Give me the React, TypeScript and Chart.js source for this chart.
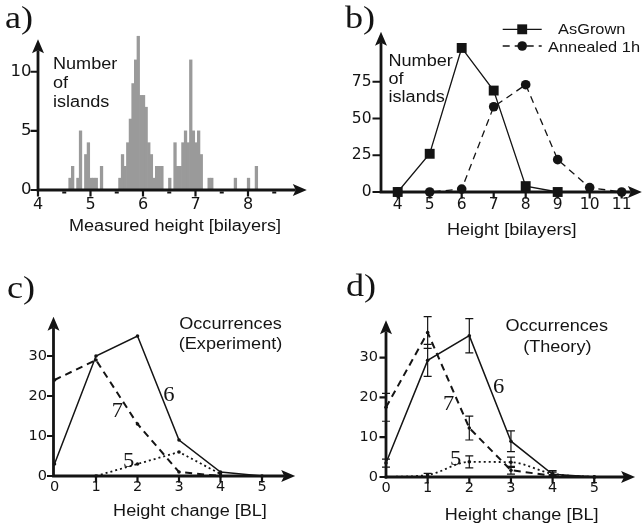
import React, { useEffect, useRef } from 'react';
import { Chart, registerables } from 'chart.js';

Chart.register(...registerables);

const SANS = '"Liberation Sans", Arial, Helvetica, sans-serif';
const TICK_SANS = '"DejaVu Sans", "Liberation Sans", Arial, sans-serif';
const SERIF = '"Liberation Serif", "Times New Roman", serif';
const INK = '#141414';
const BAR_GREY = '#9a9a9a';
const STRETCH = 1.13;

// ---------- Panel a: histogram ----------
const histHeights = [
  4.61, 4.66, 4.76, 4.81, 4.91, 4.96, 5.01, 5.06, 5.11, 5.21,
  5.56, 5.61, 5.66, 5.71, 5.76, 5.81, 5.86, 5.91, 5.96, 6.01,
  6.06, 6.11, 6.16, 6.21, 6.26, 6.31, 6.36, 6.51, 6.61, 6.66,
  6.71, 6.76, 6.81, 6.86, 6.91, 6.96, 7.01, 7.06, 7.11, 7.26,
  7.31, 7.76, 8.01, 8.16,
];
const histCounts = [
  1, 2, 1, 5, 3, 4, 1, 1, 1, 2,
  1, 3, 2, 4, 6, 9, 11, 13, 8, 8,
  7, 4, 3, 1, 2, 2, 2, 1, 4, 2,
  2, 4, 5, 4, 11, 5, 4, 5, 3, 1,
  1, 1, 1, 2,
];
const histXTicks = [4, 5, 6, 7, 8];
const histXMinor = [4.5, 5.5, 6.5, 7.5, 8.5];
const histYTicks = [0, 5, 10];

// ---------- Panel b ----------
const bilayers = [4, 5, 6, 7, 8, 9, 10, 11];
const asGrown = [0, 26, 98, 69, 4, 0, null, null];
const annealed1h = [0, 0, 2, 58, 73, 22, 3, 0];
const bYTicks = [0, 25, 50, 75];

// ---------- Panels c, d ----------
const heightChange = [0, 1, 2, 3, 4, 5];
const exp6 = [3, 30, 35, 9, 1, 0];
const exp7 = [24, 29, 13, 1, 0, null];
const exp5 = [null, 0, 3, 6, 0.5, null];
const th6 = [3.5, 29.3, 35.5, 9, 0.7, 0];
const th7 = [17.5, 36.3, 12.3, 1.7, 0.3, 0];
const th5 = [0, 0.5, 3.8, 3.7, 0.8, 0];
const th6Err = [1, 4, 4.3, 2.6, 0.9, 0];
const th7Err = [3.5, 4, 3, 1, 0.3, 0];
const th5Err = [0, 0.4, 1.5, 1.3, 0.4, 0];
const occYTicks = [0, 10, 20, 30];

// ---------- helpers ----------
function drawStretched(ctx: CanvasRenderingContext2D, t: string, x: number, y: number, font: string, align: string) {
  ctx.save();
  ctx.font = font;
  ctx.textBaseline = 'alphabetic';
  ctx.textAlign = 'left';
  ctx.fillStyle = INK;
  const w = ctx.measureText(t).width * STRETCH;
  let left = x;
  if (align === 'center') left = x - w / 2;
  else if (align === 'right') left = x - w;
  ctx.translate(left, y);
  ctx.scale(STRETCH, 1);
  ctx.fillText(t, 0, 0);
  ctx.restore();
}

const arrowAxesPlugin = {
  id: 'arrowAxes',
  afterDatasetsDraw(chart: any, _a: any, o: any) {
    if (!o || !o.on) return;
    const ctx: CanvasRenderingContext2D = chart.ctx;
    const xs = chart.scales.x;
    const ys = chart.scales.y;
    const x0 = xs.getPixelForValue(xs.min);
    const y0 = ys.getPixelForValue(0);
    const xTip = xs.getPixelForValue(o.xTip);
    const yTip = ys.getPixelForValue(o.yTip);
    const L = 14;
    const HW = 6;
    ctx.save();
    ctx.strokeStyle = INK;
    ctx.fillStyle = INK;
    ctx.lineWidth = o.lw;
    ctx.beginPath();
    ctx.moveTo(x0 - o.lw / 2, y0);
    ctx.lineTo(xTip - L + 3, y0);
    ctx.moveTo(x0, y0 + o.lw / 2);
    ctx.lineTo(x0, yTip + L - 3);
    ctx.stroke();
    ctx.beginPath();
    ctx.moveTo(xTip, y0);
    ctx.lineTo(xTip - L, y0 - HW);
    ctx.lineTo(xTip - L + 3, y0);
    ctx.lineTo(xTip - L, y0 + HW);
    ctx.closePath();
    ctx.moveTo(x0, yTip);
    ctx.lineTo(x0 - HW, yTip + L);
    ctx.lineTo(x0, yTip + L - 3);
    ctx.lineTo(x0 + HW, yTip + L);
    ctx.closePath();
    ctx.fill();
    ctx.lineWidth = 2.2;
    ctx.beginPath();
    for (const v of o.xTicks) {
      const p = xs.getPixelForValue(v);
      ctx.moveTo(p, y0);
      ctx.lineTo(p, y0 + 6.5);
    }
    for (const v of o.yTicks) {
      const p = ys.getPixelForValue(v);
      ctx.moveTo(x0, p);
      ctx.lineTo(x0 - o.yTickLen, p);
    }
    ctx.stroke();
    ctx.lineWidth = 2;
    ctx.beginPath();
    for (const v of o.xMinor || []) {
      const p = xs.getPixelForValue(v);
      ctx.moveTo(p - 2, y0 + 2.5);
      ctx.lineTo(p + 2, y0 + 2.5);
    }
    ctx.stroke();
    ctx.restore();
  },
};

const notesPlugin = {
  id: 'notes',
  beforeDatasetsDraw(chart: any, _a: any, o: any) {
    if (!o || !o.items) return;
    const ctx: CanvasRenderingContext2D = chart.ctx;
    for (const n of o.items) drawStretched(ctx, n.t, n.x - o.ox, n.y - o.oy, n.font, n.align || 'left');
  },
  afterDraw(chart: any, _a: any, o: any) {
    if (!o || !o.legend) return;
    const ctx: CanvasRenderingContext2D = chart.ctx;
    for (const it of o.legend) {
      const ds = chart.data.datasets[it.datasetIndex];
      const y = it.y - o.oy;
      const x1 = it.x1 - o.ox;
      const x2 = it.x2 - o.ox;
      ctx.save();
      ctx.strokeStyle = INK;
      ctx.fillStyle = INK;
      ctx.lineWidth = ds.borderWidth;
      ctx.setLineDash(ds.borderDash || []);
      ctx.beginPath();
      ctx.moveTo(x1, y);
      ctx.lineTo(x2, y);
      ctx.stroke();
      ctx.setLineDash([]);
      const cx = (x1 + x2) / 2;
      ctx.beginPath();
      if (ds.pointStyle === 'rect') {
        const s = Math.SQRT1_2 * ds.pointRadius;
        ctx.rect(cx - s, y - s, 2 * s, 2 * s);
      } else {
        ctx.arc(cx, y, ds.pointRadius, 0, Math.PI * 2);
      }
      ctx.fill();
      ctx.restore();
      drawStretched(ctx, it.label, it.tx - o.ox, it.ty - o.oy, `14.5px ${SANS}`, 'center');
    }
  },
};

const errorBarsPlugin = {
  id: 'errorBars',
  afterDatasetsDraw(chart: any, _a: any, o: any) {
    if (!o || !o.sets) return;
    const ctx: CanvasRenderingContext2D = chart.ctx;
    const xs = chart.scales.x;
    const ys = chart.scales.y;
    ctx.save();
    ctx.strokeStyle = INK;
    ctx.lineWidth = 1.2;
    ctx.beginPath();
    for (const s of o.sets) {
      s.values.forEach((v: number, i: number) => {
        const e = s.errors[i];
        if (!e) return;
        const px = xs.getPixelForValue(s.xs[i]);
        const pt = ys.getPixelForValue(v + e);
        const pb = ys.getPixelForValue(Math.max(v - e, 0));
        ctx.moveTo(px, pt);
        ctx.lineTo(px, pb);
        ctx.moveTo(px - 4, pt);
        ctx.lineTo(px + 4, pt);
        ctx.moveTo(px - 4, pb);
        ctx.lineTo(px + 4, pb);
      });
    }
    ctx.stroke();
    ctx.restore();
  },
};

Chart.register(arrowAxesPlugin as any, notesPlugin as any, errorBarsPlugin as any);

type Frame = { ox: number; oy: number; w: number; h: number; left: number; right: number; top: number; bottom: number };

// horizontal scale gets the whole strip below the plot, vertical scale the whole strip left of it
function linScale(min: number, max: number, ticks: number[], pad: number, size: number, horizontal: boolean, f: Frame) {
  const extent = horizontal ? f.oy + f.h - f.bottom : f.left - f.ox;
  return {
    type: 'linear',
    min,
    max,
    offset: false,
    grid: { display: false, offset: false, drawTicks: false },
    border: { display: false },
    ticks: {
      padding: pad,
      color: INK,
      font: { family: TICK_SANS, size },
      autoSkip: false,
      maxRotation: 0,
      minRotation: 0,
    },
    afterBuildTicks: (s: any) => {
      s.ticks = ticks.map((v) => ({ value: v }));
    },
    afterFit: (s: any) => {
      if (horizontal) s.height = extent;
      else s.width = extent;
      s.paddingLeft = 0;
      s.paddingRight = 0;
      s.paddingTop = 0;
      s.paddingBottom = 0;
    },
  };
}

function baseOptions(f: Frame, scales: any, plugins: any) {
  return {
    animation: false,
    responsive: false,
    maintainAspectRatio: false,
    events: [],
    layout: {
      autoPadding: false,
      padding: {
        left: 0,
        top: f.top - f.oy,
        right: f.ox + f.w - f.right,
        bottom: 0,
      },
    },
    scales,
    plugins: {
      legend: { display: false },
      tooltip: { enabled: false },
      ...plugins,
    },
  };
}

const pts = (xs: number[], ys: (number | null)[]) => xs.map((x, i) => ({ x, y: ys[i] }));

function lineDs(data: any, dash: number[], width: number, extra: any = {}) {
  return {
    data,
    borderColor: INK,
    backgroundColor: INK,
    borderWidth: width,
    borderDash: dash,
    pointRadius: 1.8,
    pointStyle: 'circle',
    pointBackgroundColor: INK,
    pointBorderColor: INK,
    pointBorderWidth: 0,
    tension: 0,
    clip: false,
    spanGaps: false,
    ...extra,
  };
}

// ---------- panel frames ----------
const frameA: Frame = { ox: 0, oy: 0, w: 321, h: 265, left: 38, right: 290, top: 34, bottom: 190 };
const frameB: Frame = { ox: 321, oy: 0, w: 322, h: 265, left: 381, right: 630, top: 45, bottom: 192 };
const frameC: Frame = { ox: 0, oy: 265, w: 321, h: 264, left: 53.5, right: 283, top: 328, bottom: 476 };
const frameD: Frame = { ox: 321, oy: 265, w: 322, h: 264, left: 386, right: 615, top: 314, bottom: 477 };

const L16 = `16px ${SANS}`;
const LET = `32px ${SERIF}`;
const NUM = `20px ${SERIF}`;

function configA() {
  const f = frameA;
  return {
    type: 'bar',
    data: {
      datasets: [
        {
          data: pts(histHeights, histCounts),
          backgroundColor: BAR_GREY,
          borderWidth: 0,
          barPercentage: 1,
          categoryPercentage: 1,
          clip: false,
        },
      ],
    },
    options: baseOptions(
      f,
      {
        x: linScale(4, 8.8, histXTicks, 5, 16, true, f),
        y: linScale(0, 13.19, histYTicks, 6.5, 16.5, false, f),
      },
      {
        arrowAxes: { on: true, xTip: 9.12, yTip: 12.74, lw: 2.8, yTickLen: 7.5, xTicks: histXTicks, yTicks: histYTicks, xMinor: histXMinor },
        notes: {
          ox: f.ox,
          oy: f.oy,
          items: [
            { t: 'a)', x: 5, y: 28, font: LET },
            { t: 'Number', x: 53, y: 68.5, font: L16 },
            { t: 'of', x: 53, y: 87.5, font: L16 },
            { t: 'islands', x: 53, y: 106.5, font: L16 },
            { t: 'Measured height [bilayers]', x: 175, y: 231, font: L16, align: 'center' },
          ],
        },
      }
    ),
  };
}

function configB() {
  const f = frameB;
  return {
    type: 'line',
    data: {
      datasets: [
        lineDs(pts(bilayers, asGrown), [], 1.3, { pointStyle: 'rect', pointRadius: 7 }),
        lineDs(pts(bilayers, annealed1h), [7, 5], 1.3, { pointStyle: 'circle', pointRadius: 4.8 }),
      ],
    },
    options: baseOptions(
      f,
      {
        x: linScale(3.478, 11.26, bilayers, 3.5, 15.5, true, f),
        y: linScale(0, 100, bYTicks, 9.5, 15.5, false, f),
      },
      {
        arrowAxes: { on: true, xTip: 11.63, yTip: 109, lw: 2.8, yTickLen: 8.5, xTicks: bilayers, yTicks: bYTicks },
        notes: {
          ox: f.ox,
          oy: f.oy,
          items: [
            { t: 'b)', x: 345, y: 28, font: LET },
            { t: 'Number', x: 388.5, y: 65.5, font: L16 },
            { t: 'of', x: 388.5, y: 83.5, font: L16 },
            { t: 'islands', x: 388.5, y: 101.5, font: L16 },
            { t: 'Height [bilayers]', x: 511.7, y: 235, font: L16, align: 'center' },
          ],
          legend: [
            { datasetIndex: 0, label: 'AsGrown', x1: 502.7, x2: 541.7, y: 29.3, tx: 591.7, ty: 33.5 },
            { datasetIndex: 1, label: 'Annealed 1h', x1: 502.7, x2: 541.7, y: 46, tx: 594, ty: 51.5 },
          ],
        },
      }
    ),
  };
}

function configC() {
  const f = frameC;
  return {
    type: 'line',
    data: {
      datasets: [
        lineDs(pts(heightChange, exp6), [], 1.5),
        lineDs(pts(heightChange, exp7), [7, 5], 2),
        lineDs(pts(heightChange, exp5), [2, 3], 1.8),
      ],
    },
    options: baseOptions(
      f,
      {
        x: linScale(-0.024, 5.506, heightChange, 3, 14.5, true, f),
        y: linScale(0, 37, occYTicks, 6.5, 14.5, false, f),
      },
      {
        arrowAxes: { on: true, xTip: 5.8, yTip: 39.8, lw: 2.8, yTickLen: 6.5, xTicks: heightChange.slice(1), yTicks: occYTicks },
        notes: {
          ox: f.ox,
          oy: f.oy,
          items: [
            { t: 'c)', x: 7, y: 298, font: LET },
            { t: 'Occurrences', x: 230.5, y: 328.5, font: L16, align: 'center' },
            { t: '(Experiment)', x: 230.5, y: 348.5, font: L16, align: 'center' },
            { t: '6', x: 163.3, y: 400.7, font: NUM },
            { t: '7', x: 111.7, y: 416.7, font: NUM },
            { t: '5', x: 123, y: 466.7, font: NUM },
            { t: 'Height change [BL]', x: 190, y: 516, font: L16, align: 'center' },
          ],
        },
      }
    ),
  };
}

function configD() {
  const f = frameD;
  return {
    type: 'line',
    data: {
      datasets: [
        lineDs(pts(heightChange, th6), [], 1.5),
        lineDs(pts(heightChange, th7), [7, 5], 2),
        lineDs(pts(heightChange, th5), [2, 3], 1.8, { tension: 0.4, cubicInterpolationMode: 'monotone' }),
      ],
    },
    options: baseOptions(
      f,
      {
        x: linScale(0, 5.498, heightChange, 2.5, 14.5, true, f),
        y: linScale(0, 40.95, occYTicks, 8, 14.5, false, f),
      },
      {
        arrowAxes: { on: true, xTip: 5.98, yTip: 39.4, lw: 2.8, yTickLen: 6.5, xTicks: heightChange.slice(1), yTicks: occYTicks },
        errorBars: {
          sets: [
            { xs: heightChange, values: th6, errors: th6Err },
            { xs: heightChange, values: th7, errors: th7Err },
            { xs: heightChange, values: th5, errors: th5Err },
          ],
        },
        notes: {
          ox: f.ox,
          oy: f.oy,
          items: [
            { t: 'd)', x: 346, y: 296, font: LET },
            { t: 'Occurrences', x: 556.7, y: 331, font: L16, align: 'center' },
            { t: '(Theory)', x: 557.3, y: 351.5, font: L16, align: 'center' },
            { t: '6', x: 493, y: 393, font: NUM },
            { t: '7', x: 443, y: 410, font: NUM },
            { t: '5', x: 450, y: 465, font: NUM },
            { t: 'Height change [BL]', x: 521.7, y: 520, font: L16, align: 'center' },
          ],
        },
      }
    ),
  };
}

function Panel({ frame, build }: { frame: Frame; build: () => any }) {
  const ref = useRef<HTMLCanvasElement>(null);
  useEffect(() => {
    const chart = new Chart(ref.current as HTMLCanvasElement, build());
    return () => chart.destroy();
  }, []);
  return (
    <canvas
      ref={ref}
      width={frame.w}
      height={frame.h}
      style={{ position: 'absolute', left: frame.ox, top: frame.oy, width: frame.w, height: frame.h }}
    />
  );
}

export default function App() {
  return (
    <div style={{ position: 'absolute', left: 0, top: 0, width: 643, height: 529, background: '#ffffff', overflow: 'hidden' }}>
      <Panel frame={frameA} build={configA} />
      <Panel frame={frameB} build={configB} />
      <Panel frame={frameC} build={configC} />
      <Panel frame={frameD} build={configD} />
    </div>
  );
}
